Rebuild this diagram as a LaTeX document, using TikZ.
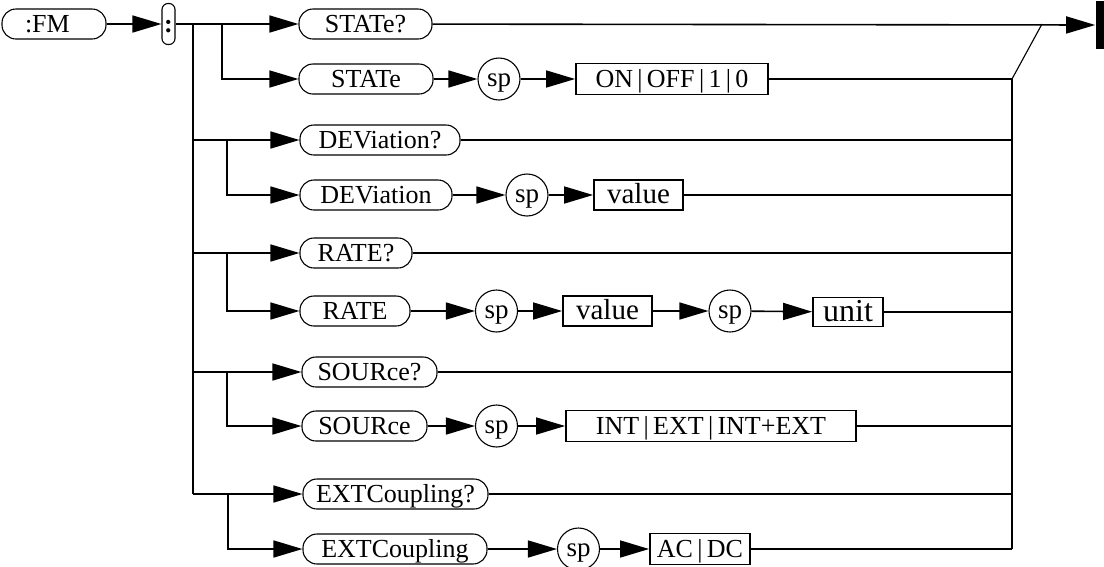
\documentclass[tikz,border=0pt]{standalone}
\usepackage{fontspec}
\setmainfont{Liberation Serif}
\usepackage{tikz}
\usetikzlibrary{arrows.meta}

\begin{document}
\begin{tikzpicture}[x=1pt, y=-1pt, line width=1.6pt,
	every node/.style={font=\fontsize{26}{30}\selectfont, inner sep=0pt, text height=17pt, text depth=1pt},
	>={Triangle[length=29pt, width=17pt]},
	cmdbox/.style={draw, rounded corners=14pt, minimum height=30pt, line width=1.1pt},
	argbox/.style={draw, minimum height=31pt, line width=1.8pt},
	bigarg/.style={argbox, minimum height=30pt, font=\fontsize{29}{32}\selectfont, text height=19pt, text depth=2pt},
	spbox/.style={draw, circle, minimum size=42pt, line width=1.1pt, font=\fontsize{27}{30}\selectfont, text height=16pt, text depth=2pt}]
	\useasboundingbox (0,0) rectangle (1104,566);
	% header
	\node[cmdbox, minimum width=104pt, text width=94pt, align=left] (fm) at (54,24) {\hspace*{18pt}:FM};
	\node[draw, rounded corners=6pt, minimum width=13pt, minimum height=41pt, line width=1.1pt] (colon) at (168.5,24) {\textbf{:}};
	\node[fill, minimum width=8pt, minimum height=48pt] (stop) at (1100,25) {};
	% rows
	\node[cmdbox, minimum width=133pt] (stq) at (365.5,24) {STATe?};
	\node[cmdbox, minimum width=134pt] (st) at (366,79) {STATe};
	\node[spbox] (sp1) at (499,79) {sp};
	\node[argbox, minimum width=192pt] (onoff) at (672,79) {ON\,|\,OFF\,|\,1\,|\,0};
	\node[cmdbox, minimum width=160pt] (devq) at (380,140) {DEViation?};
	\node[cmdbox, minimum width=152pt] (dev) at (376,195) {DEViation};
	\node[spbox] (sp2) at (527,195) {sp};
	\node[bigarg, minimum width=89pt] (val1) at (638.5,195) {value};
	\node[cmdbox, minimum width=112pt] (rateq) at (356,253) {RATE?};
	\node[cmdbox, minimum width=110pt] (rate) at (355,311) {RATE};
	\node[spbox] (sp3) at (496.5,311) {sp};
	\node[bigarg, minimum width=89pt] (val2) at (607.5,311) {value};
	\node[spbox] (sp4) at (730,311) {sp};
	\node[bigarg, minimum width=70pt, minimum height=29pt, font=\fontsize{32}{34}\selectfont, text height=21pt, text depth=3pt] (unit) at (848,312) {unit};
	\node[cmdbox, minimum width=135pt] (srcq) at (369.5,372) {SOURce?};
	\node[cmdbox, minimum width=125pt] (src) at (364.5,426) {SOURce};
	\node[spbox] (sp5) at (496.5,426) {sp};
	\node[argbox, minimum width=290pt] (intext) at (711,426) {INT\,|\,EXT\,|\,INT+EXT};
	\node[cmdbox, minimum width=185pt] (extq) at (395.5,494) {EXTCoupling?};
	\node[cmdbox, minimum width=184pt] (ext) at (395,549) {EXTCoupling};
	\node[spbox] (sp6) at (578.5,549) {sp};
	\node[argbox, minimum width=100pt] (acdc) at (700,549) {AC\,|\,DC};
	% forks
	\coordinate (ja) at (193,24);
	\coordinate (jz) at (193,494);
	\coordinate (fst) at (222,24);
	\coordinate (fdev) at (227,140);
	\coordinate (frate) at (227,253);
	\coordinate (fsrc) at (227,372);
	\coordinate (fext) at (228,494);
	\coordinate (rt) at (1012,79);
	\coordinate (rb) at (1012,549);
	\coordinate (rk) at (1042,24);
	% connectors
	\draw[->] (fm) -- (colon);
	\draw[->] (colon) -- (stq);
	\draw (ja) -- (jz);
	\draw[->] (fst) |- (st);
	\draw[->] (st) -- (sp1); \draw[->] (sp1) -- (onoff);
	\draw[->] (ja |- devq) -- (devq);
	\draw[->] (fdev) |- (dev);
	\draw[->] (dev) -- (sp2); \draw[->] (sp2) -- (val1);
	\draw[->] (ja |- rateq) -- (rateq);
	\draw[->] (frate) |- (rate);
	\draw[->] (rate) -- (sp3); \draw[->] (sp3) -- (val2);
	\draw[->] (val2) -- (sp4); \draw[->] (sp4) -- (unit);
	\draw[->] (ja |- srcq) -- (srcq);
	\draw[->] (fsrc) |- (src);
	\draw[->] (src) -- (sp5); \draw[->] (sp5) -- (intext);
	\draw[->] (jz) -- (extq);
	\draw[->] (fext) |- (ext);
	\draw[->] (ext) -- (sp6); \draw[->] (sp6) -- (acdc);
	% right side
	\draw[->] (stq) -- (stop);
	\draw[line width=1.1pt] (rk) -- (rt);
	\draw (rt) -- (rb);
	\draw (onoff) -- (rt);
	\draw (devq) -- (devq -| rt);
	\draw (val1) -- (val1 -| rt);
	\draw (rateq) -- (rateq -| rt);
	\draw (unit) -- (unit -| rt);
	\draw (srcq) -- (srcq -| rt);
	\draw (intext) -- (intext -| rt);
	\draw (extq) -- (extq -| rt);
	\draw (acdc) -- (rb);
\end{tikzpicture}
\end{document}
